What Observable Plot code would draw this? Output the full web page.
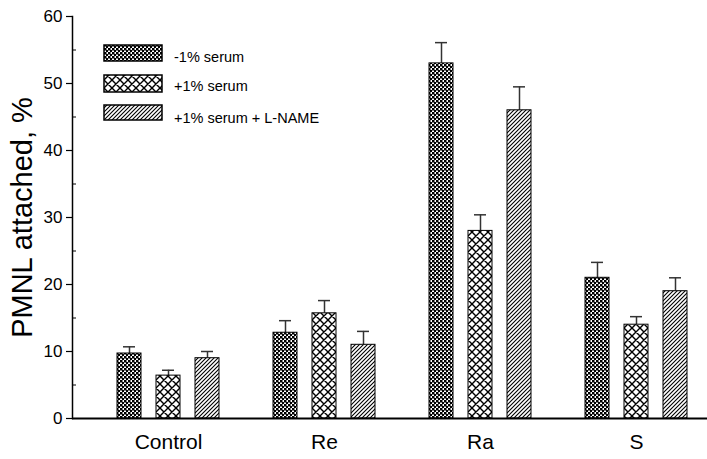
<!DOCTYPE html>
<html>
<head>
<meta charset="utf-8">
<script src="https://cdn.jsdelivr.net/npm/d3@7"></script>
<script src="https://cdn.jsdelivr.net/npm/@observablehq/plot@0.6"></script>
<style>
  body { margin: 0; background: #fff; }
  #chart { width: 707px; height: 459px; }
</style>
</head>
<body>
<div id="chart"></div>
<script>
const groups = ["Control", "Re", "Ra", "S"];
const series = ["-1% serum", "+1% serum", "+1% serum + L-NAME"];
const minusSerum = [9.7, 12.8, 53.0, 21.0];
const minusSerumErr = [1.0, 1.8, 3.1, 2.3];
const plusSerum = [6.4, 15.7, 28.0, 14.0];
const plusSerumErr = [0.8, 1.9, 2.4, 1.2];
const plusLName = [9.0, 11.0, 46.0, 19.0];
const plusLNameErr = [1.0, 2.0, 3.5, 2.0];
const yTicks = [0, 10, 20, 30, 40, 50, 60];
const yMinorTicks = [5, 15, 25, 35, 45, 55];

const values = [minusSerum, plusSerum, plusLName];
const errs = [minusSerumErr, plusSerumErr, plusLNameErr];
const patterns = ["url(#pat-checker)", "url(#pat-cross)", "url(#pat-diag)"];

const data = [];
groups.forEach((g, gi) => {
  series.forEach((s, si) => {
    data.push({group: g, series: s, key: g + "|" + si, value: values[si][gi], err: errs[si][gi], fill: patterns[si]});
  });
});
const domain = [];
groups.forEach((g, gi) => {
  series.forEach((s, si) => domain.push(g + "|" + si));
  if (gi < groups.length - 1) domain.push("gap" + gi);
});
const labelData = groups.map(g => ({group: g, key: g + "|1"}));

const FONT = "Liberation Sans, Arial, sans-serif";

const chart = Plot.plot({
  width: 707,
  height: 459,
  marginLeft: 72,
  marginRight: 0,
  marginTop: 16,
  marginBottom: 41,
  style: {fontFamily: FONT, background: "#fff"},
  x: {type: "band", domain, paddingInner: 15 / 39, paddingOuter: 0.833, align: 0.69, axis: null},
  y: {domain: [0, 60], axis: null},
  marks: [
    Plot.axisY({ticks: yTicks, tickSize: 6, tickPadding: 4, fontSize: 17, label: null, stroke: "#000", strokeWidth: 1.2, fill: "#000"}),
    Plot.axisY({ticks: yMinorTicks, tickSize: 3, dx: 4, text: null, label: null, stroke: "#000"}),
    Plot.ruleX(data, {x: "key", y1: d => d.value, y2: d => d.value + d.err, stroke: "#333", strokeWidth: 1.5}),
    Plot.tickY(data, {x: "key", y: d => d.value + d.err, stroke: "#333", strokeWidth: 1.5, insetLeft: 6, insetRight: 6}),
    Plot.barY(data, {x: "key", y: "value", fill: "fill", stroke: "#000", strokeWidth: 1}),
    Plot.ruleY([0], {stroke: "#000", strokeWidth: 2}),
    Plot.frame({anchor: "left", stroke: "#000", strokeWidth: 1.5}),
    Plot.text(labelData, {x: "key", text: "group", frameAnchor: "bottom", dy: 30, fontSize: 21, fill: "#000"}),
    Plot.text(["PMNL attached, %"], {frameAnchor: "left", textAnchor: "middle", dx: -50, rotate: -90, fontSize: 29, fill: "#000"})
  ]
});

// Patterns
const svg = d3.select(chart);
const defs = svg.insert("defs", ":first-child");
const p1 = defs.append("pattern").attr("id", "pat-checker").attr("patternUnits", "userSpaceOnUse").attr("width", 4).attr("height", 4);
p1.append("rect").attr("width", 4).attr("height", 4).attr("fill", "#fff");
p1.append("rect").attr("width", 2.5).attr("height", 2.5).attr("fill", "#000");
p1.append("rect").attr("x", 2).attr("y", 2).attr("width", 2.5).attr("height", 2.5).attr("fill", "#000");
const p2 = defs.append("pattern").attr("id", "pat-cross").attr("patternUnits", "userSpaceOnUse").attr("width", 8).attr("height", 8);
p2.append("rect").attr("width", 8).attr("height", 8).attr("fill", "#fff");
p2.append("path").attr("d", "M0,0L8,8M8,0L0,8M-1,7L1,9M7,-1L9,1M-1,1L1,-1M7,9L9,7").attr("stroke", "#000").attr("stroke-width", 1.4);
const p3 = defs.append("pattern").attr("id", "pat-diag").attr("patternUnits", "userSpaceOnUse").attr("width", 4).attr("height", 4);
p3.append("rect").attr("width", 4).attr("height", 4).attr("fill", "#fff");
p3.append("path").attr("d", "M0,4L4,0M-1,1L1,-1M3,5L5,3").attr("stroke", "#000").attr("stroke-width", 1.1);

// Legend
const legendRows = [{y: 45, h: 16, ty: 58}, {y: 75, h: 17, ty: 87}, {y: 105, h: 15, ty: 119}];
const lg = svg.append("g");
series.forEach((s, i) => {
  lg.append("rect").attr("x", 104).attr("y", legendRows[i].y).attr("width", 58).attr("height", legendRows[i].h)
    .attr("fill", patterns[i]).attr("stroke", "#000").attr("stroke-width", 1.5);
  lg.append("text").attr("x", 174).attr("y", legendRows[i].ty)
    .style("font-size", "14.5px").style("font-family", FONT).style("text-anchor", "start")
    .attr("fill", "#000").attr("dominant-baseline", "middle").text(s);
});

document.getElementById("chart").appendChild(chart);
</script>
</body>
</html>
